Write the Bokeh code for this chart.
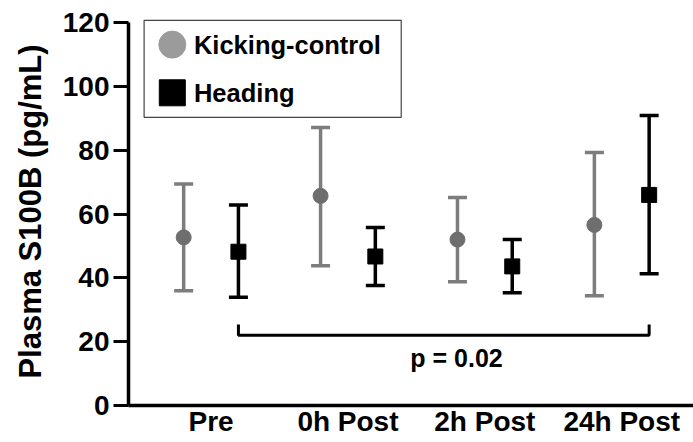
from bokeh.plotting import figure
from bokeh.models import (ColumnDataSource, Range1d, FixedTicker, Whisker,
                          TeeHead, Label)
from bokeh.embed import file_html
from bokeh.resources import INLINE
import numpy as np

# ---- data ----
categories = ["Pre", "0h Post", "2h Post", "24h Post"]
kick_mean = [52.7, 65.7, 52.0, 56.6]
kick_upper = [69.4, 87.1, 65.2, 79.3]
kick_lower = [36.0, 43.8, 38.8, 34.4]
head_mean = [48.2, 46.7, 43.6, 66.0]
head_upper = [62.8, 55.8, 52.0, 90.9]
head_lower = [33.9, 37.6, 35.3, 41.3]
y_ticks = [0, 20, 40, 60, 80, 100, 120]
p_label = "p = 0.02"
bracket_y = 22.0
bracket_tick_top = 25.4
series_names = ["Kicking-control", "Heading"]

FONT = "Liberation Sans"
GRAY_BAR = "#7d7d7d"
GRAY_MARK = "#6e6e6e"
GRAY_LEG = "#9b9b9b"

group = np.arange(1, len(categories) + 1)
offset = 0.2
kick_x = group - offset
head_x = group + offset

p = figure(width=693, height=442, output_backend="svg", toolbar_location=None,
           x_range=Range1d(0.397, 4.524), y_range=Range1d(0, 121.6),
           min_border_left=128, min_border_right=0, min_border_top=17,
           min_border_bottom=37)
p.outline_line_color = None
p.grid.visible = False
p.background_fill_color = "white"
p.border_fill_color = "white"

src_k = ColumnDataSource(dict(x=kick_x, m=kick_mean, u=kick_upper, l=kick_lower))
src_h = ColumnDataSource(dict(x=head_x, m=head_mean, u=head_upper, l=head_lower))

for src, col in ((src_k, GRAY_BAR), (src_h, "black")):
    w = Whisker(source=src, base="x", upper="u", lower="l", dimension="height",
                line_color=col, line_width=3.5,
                upper_head=TeeHead(size=19, line_color=col, line_width=3.5),
                lower_head=TeeHead(size=19, line_color=col, line_width=3.5))
    p.add_layout(w)

p.scatter("x", "m", source=src_k, marker="circle", size=15,
          fill_color=GRAY_MARK, line_color=GRAY_MARK)
p.scatter("x", "m", source=src_h, marker="square", size=15,
          fill_color="black", line_color="black")

# significance bracket between Heading Pre and Heading 24h Post
bx0, bx1 = head_x[0], head_x[-1]
p.line([bx0, bx0, bx1, bx1], [bracket_tick_top, bracket_y, bracket_y, bracket_tick_top],
       line_color="black", line_width=3)
p.add_layout(Label(x=2.793, y=14.8, text=p_label, text_align="center",
                   text_baseline="middle", text_font=FONT, text_font_style="bold",
                   text_font_size="25px", text_color="black"))

# legend box drawn manually
p.quad(left=[0.511], right=[2.389], top=[120.7], bottom=[90.3],
       fill_color="white", line_color="#444444", line_width=1.2)
p.scatter([0.717], [113.1], marker="circle", size=27,
          fill_color=GRAY_LEG, line_color=GRAY_LEG)
p.scatter([0.717], [98.0], marker="square", size=26,
          fill_color="black", line_color="black")
for yy, name in zip([113.1, 98.0], series_names):
    p.add_layout(Label(x=0.875, y=yy, text=name, text_align="left",
                       text_baseline="middle", text_font=FONT,
                       text_font_style="bold", text_font_size="25.5px",
                       text_color="black"))

# axes
p.yaxis.ticker = FixedTicker(ticks=y_ticks)
p.yaxis.bounds = (0, 120)
p.yaxis.axis_line_width = 3.5
p.yaxis.major_tick_line_width = 3
p.yaxis.major_tick_out = 15
p.yaxis.major_tick_in = 0
p.yaxis.minor_tick_line_color = None
p.yaxis.major_label_text_font = FONT
p.yaxis.major_label_text_font_style = "bold"
p.yaxis.major_label_text_font_size = "28px"
p.yaxis.major_label_text_color = "black"
p.yaxis.major_label_standoff = 4
p.yaxis.axis_label = "Plasma S100B (pg/mL)"
p.yaxis.axis_label_text_font = FONT
p.yaxis.axis_label_text_font_style = "bold"
p.yaxis.axis_label_text_font_size = "31px"
p.yaxis.axis_label_text_color = "black"
p.yaxis.axis_label_standoff = 12

p.xaxis.ticker = FixedTicker(ticks=list(group))
p.xaxis.major_label_overrides = {int(g): c for g, c in zip(group, categories)}
p.xaxis.axis_line_width = 3.5
p.xaxis.major_tick_line_color = None
p.xaxis.major_tick_out = 0
p.xaxis.major_tick_in = 0
p.xaxis.minor_tick_line_color = None
p.xaxis.major_label_text_font = FONT
p.xaxis.major_label_text_font_style = "bold"
p.xaxis.major_label_text_font_size = "28px"
p.xaxis.major_label_text_color = "black"
p.xaxis.major_label_standoff = 0

open("out.html", "w").write(file_html(p, INLINE))
